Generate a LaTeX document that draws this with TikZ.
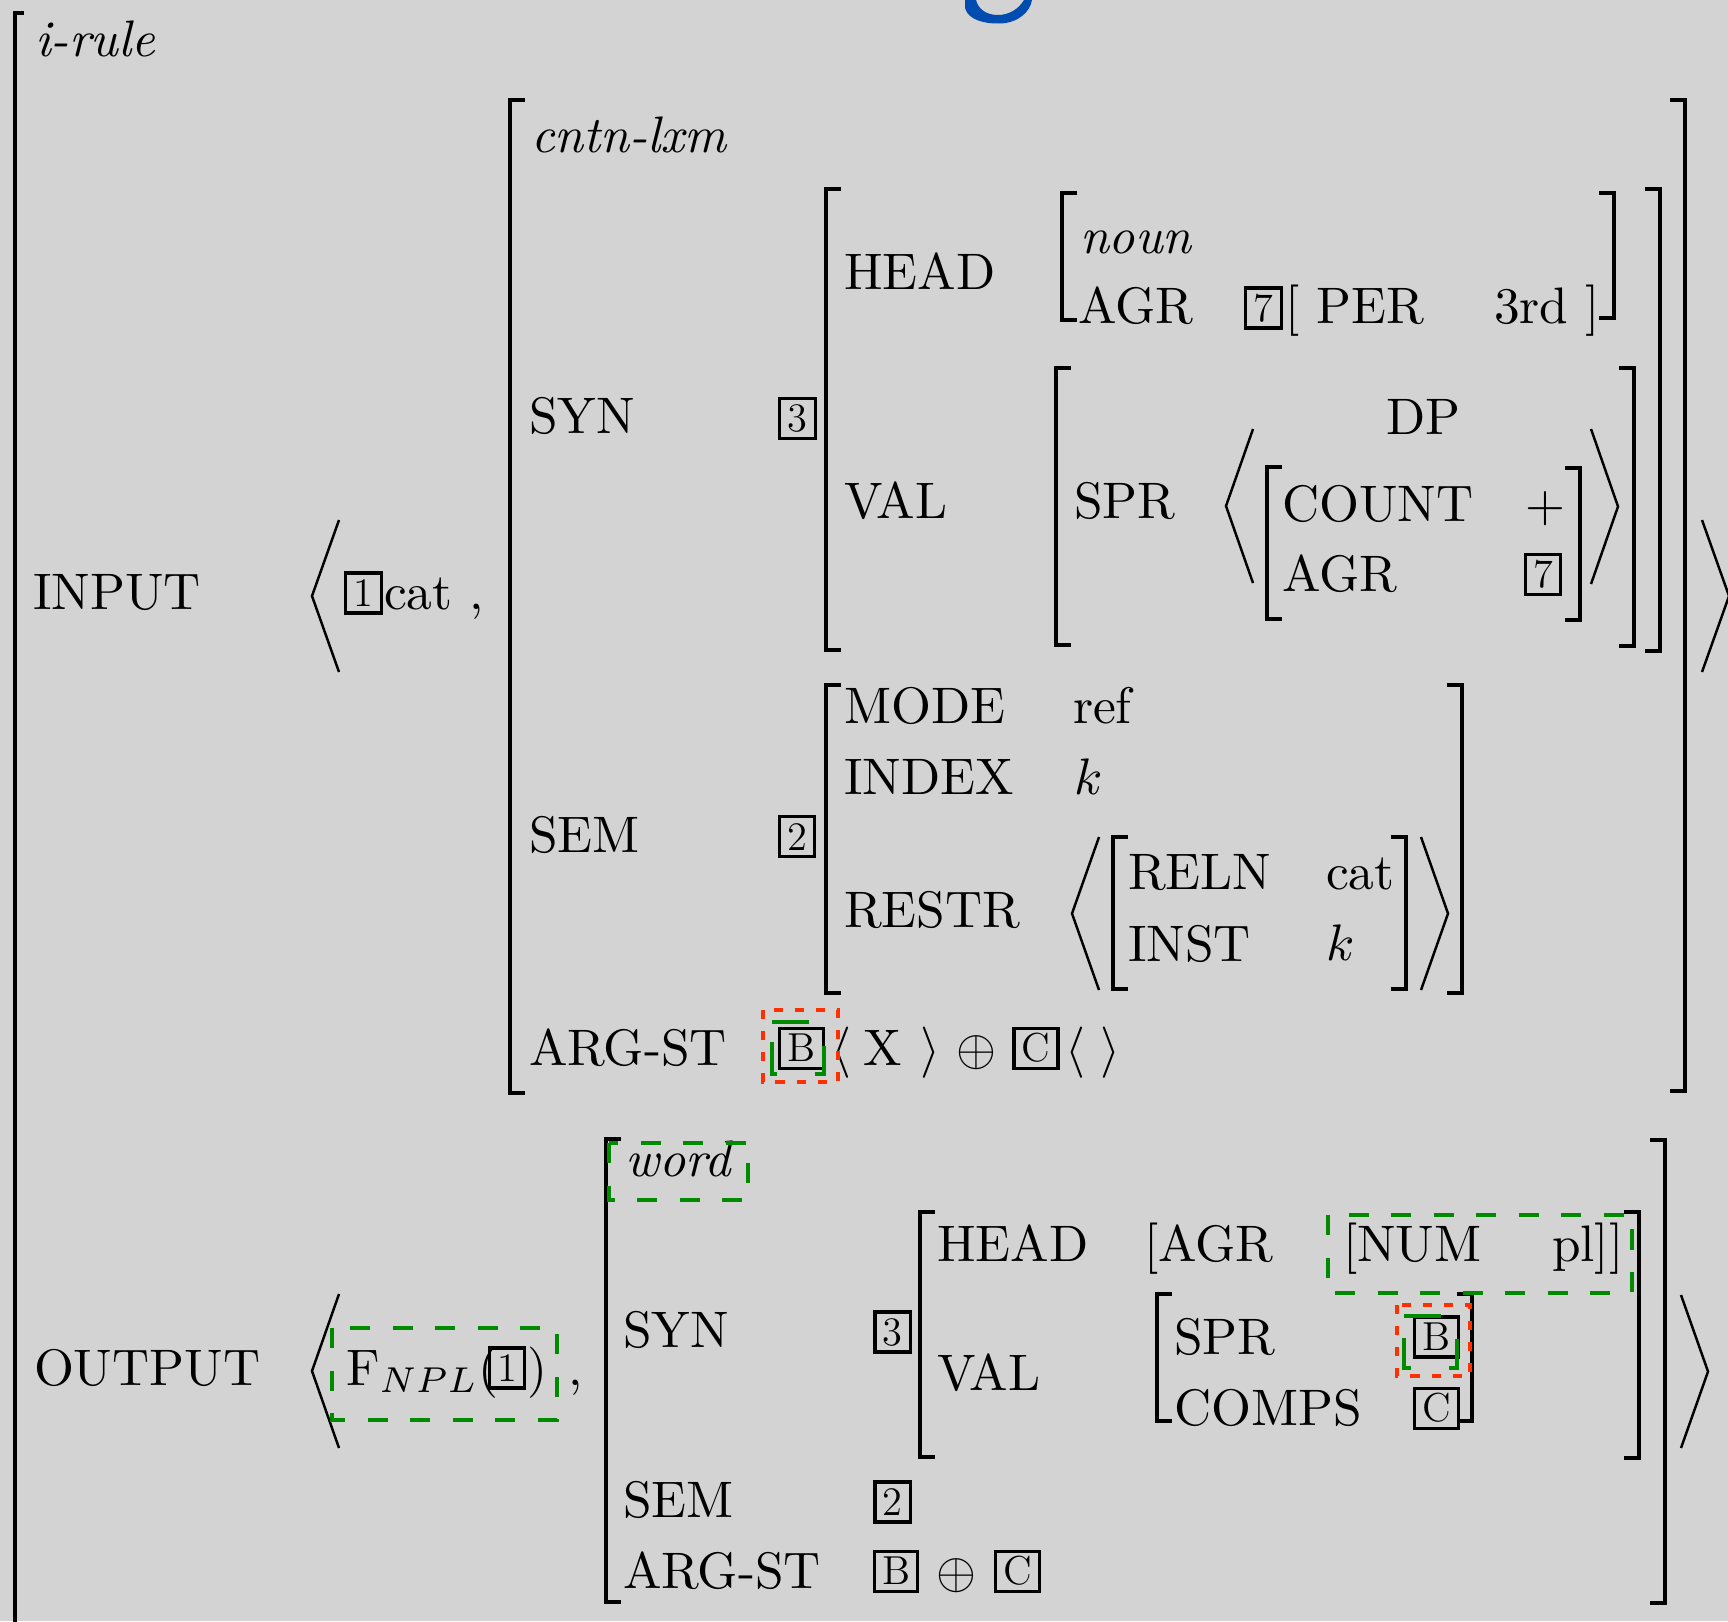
\documentclass[tikz,border=0pt]{standalone}
\usepackage{amsmath,amssymb}
\usepackage{xcolor}
\usepackage{tikz}
\usetikzlibrary{calc}
\definecolor{bgc}{RGB}{211,211,211}
\definecolor{grc}{RGB}{0,138,0}
\definecolor{rdc}{RGB}{255,48,0}
\definecolor{ttl}{RGB}{0,76,176}

\begin{document}
\begin{tikzpicture}[x=0.01cm,y=-0.01cm,
  lbl/.style={anchor=base west,inner sep=0pt,scale=1.46,font=\fontsize{10}{12}\selectfont},
  tag/.style={draw,line width=0.9pt,inner xsep=2.2pt,inner ysep=1.9pt,text height=7.6pt,text depth=0pt,font=\fontsize{11.5}{12}\selectfont},
  brk/.style={line width=1.2pt},
  ang/.style={line width=0.7pt},
  grn/.style={draw=grc,line width=1.4pt,dash pattern=on 5.7pt off 6.4pt},
  grnb/.style={draw=grc,line width=1.4pt,dash pattern=on 10.5pt off 11pt},
  redb/.style={draw=rdc,line width=1.2pt,dash pattern=on 2.6pt off 3.4pt}]
  \fill[bgc] (0,0) rectangle (1728,1621);
  \useasboundingbox (0,0) rectangle (1728,1621);
  \clip (0,0) rectangle (1728,1621);
  % title letter cut by the frame
  \fill[ttl] (965,0) -- (965,8) .. controls (968,20) and (985,24) .. (1000,23.5) .. controls (1018,23) and (1030,12) .. (1032,0) -- (1024,0) .. controls (1018,10) and (1008,15) .. (998,15) .. controls (985,15) and (978,8) .. (976,0) -- cycle;
  % brackets
  \foreach \x/\t/\b/\h in {15/13/1650/9,510/100/1093/15,826/189/650/15,1062/193/320/15,1056/368/645/15,1267/467/619/15,826/685/993/15,1113/837/989/15,606/1139/1602/15,920/1212/1457/15,1157/1294/1421/15}
    \draw[brk] (\x+\h,\t) -- (\x,\t) -- (\x,\b) -- (\x+\h,\b);
  \foreach \x/\t/\b in {1685/100/1091,1660/189/651,1614/193/318,1634/368/646,1580/468/620,1462/685/993,1406/837/989,1665/1140/1603,1639/1212/1458,1472/1294/1421}
    \draw[brk] (\x-15,\t) -- (\x,\t) -- (\x,\b) -- (\x-15,\b);
  \foreach \x/\t/\b in {312/520/672,1226/429/583,1072/837/990,312/1294/1448}
    \draw[ang] (\x+27,\t) -- (\x,{(\t+\b)/2}) -- (\x+27,\b);
  \foreach \x/\t/\b in {1729/520/672,1618/429/584,1448/837/990,1708/1295/1448}
    \draw[ang] (\x-27,\t) -- (\x,{(\t+\b)/2}) -- (\x-27,\b);
  % input
  \node[lbl] (irule) at (34,57) {\textit{i-rule}};
  \node[lbl] (inp) at (32,609) {INPUT};
  \node[tag] (t1) at (363.5,593) {1};
  \node[lbl] (cat) at (383,609) {cat ,};
  \node[lbl] (cntn) at (530,152) {\textit{cntn-lxm}};
  \node[lbl] (syn) at (528,433) {SYN};
  \node[tag] (t3) at (797.5,418.5) {3};
  \node[lbl] (head) at (843,289) {HEAD};
  \node[lbl] (noun) at (1079,253.5) {\textit{noun}};
  \node[lbl] (agr) at (1077,323.5) {AGR};
  \node[tag] (t7) at (1263.5,308) {7};
  \node[lbl] (per) at (1284,323.5) {[ PER};
  \node[lbl] (third) at (1493,323.5) {3rd ]};
  \node[lbl] (val) at (843,518) {VAL};
  \node[lbl] (spr) at (1073,518) {SPR};
  \node[lbl] (dp) at (1385,434) {DP};
  \node[lbl] (count) at (1281,521) {COUNT};
  \node[lbl] (plus) at (1524,521) {$+$};
  \node[lbl] (agrb) at (1281,591) {AGR};
  \node[tag] (t7b) at (1543,574.5) {7};
  \node[lbl] (sem) at (528,852) {SEM};
  \node[tag] (t2) at (797,836.7) {2};
  \node[lbl] (mode) at (843,723) {MODE};
  \node[lbl] (ref) at (1072,723) {ref};
  \node[lbl] (index) at (843,794) {INDEX};
  \node[lbl] (kidx) at (1073,794) {$k$};
  \node[lbl] (restr) at (843,927) {RESTR};
  \node[lbl] (reln) at (1127,889) {RELN};
  \node[lbl] (catb) at (1325,889) {cat};
  \node[lbl] (inst) at (1127,961) {INST};
  \node[lbl] (kinst) at (1325,960) {$k$};
  \node[lbl] (argst) at (528,1065) {ARG-ST};
  \node[tag] (tb) at (801.5,1048.5) {B};
  \node[lbl] (la) at (830,1065) {$\langle$};
  \node[lbl] (xx) at (862,1065) {X};
  \node[lbl] (ra) at (919,1065) {$\rangle$};
  \node[lbl] (op) at (955,1065) {$\oplus$};
  \node[tag] (tc) at (1036,1048.5) {C};
  \node[lbl] (la2) at (1064,1065) {$\langle$};
  \node[lbl] (ra2) at (1099,1065) {$\rangle$};
  % output
  \node[lbl] (outp) at (33,1385) {OUTPUT};
  \node[lbl] (fnpl) at (345,1385) {F$_{NPL}$(};
  \node[tag] (t1b) at (507,1368) {1};
  \node[lbl] (rp) at (526,1385) {)};
  \node[lbl] (cm2) at (567,1385) {,};
  \node[lbl] (word) at (624,1176) {\textit{word}};
  \node[lbl] (syn2) at (622,1347.5) {SYN};
  \node[tag] (t3b) at (892.6,1332) {3};
  \node[lbl] (head2) at (936,1261) {HEAD};
  \node[lbl] (agr2) at (1143,1261) {[AGR};
  \node[lbl] (num) at (1342,1261) {[NUM};
  \node[lbl] (pl) at (1551,1261) {pl]]};
  \node[lbl] (val2) at (936,1390) {VAL};
  \node[lbl] (spr2) at (1173,1354) {SPR};
  \node[tag] (tb2) at (1436.5,1337) {B};
  \node[lbl] (comps) at (1173,1425) {COMPS};
  \node[tag] (tc2) at (1436.5,1408.5) {C};
  \node[lbl] (sem2) at (622,1517) {SEM};
  \node[tag] (t2b) at (892.6,1502) {2};
  \node[lbl] (argst2) at (622,1588) {ARG-ST};
  \node[tag] (tb3) at (896,1571.5) {B};
  \node[lbl] (op2) at (935,1588) {$\oplus$};
  \node[tag] (tc3) at (1017.4,1571.5) {C};
  % highlights
  \draw[redb] (763,1010) rectangle (838,1082);
  \draw[grnb] (772,1022) -- (824,1022) -- (824,1074) -- (772,1074) -- cycle;
  \draw[grn] (332,1328) rectangle (557,1420);
  \draw[grn] (609,1143) rectangle (748,1200);
  \draw[grn] (1328,1215) rectangle (1632,1293);
  \draw[redb] (1397,1305) rectangle (1470,1376);
  \draw[grnb] (1404,1316) -- (1457,1316) -- (1457,1368) -- (1404,1368) -- cycle;
\end{tikzpicture}
\end{document}
